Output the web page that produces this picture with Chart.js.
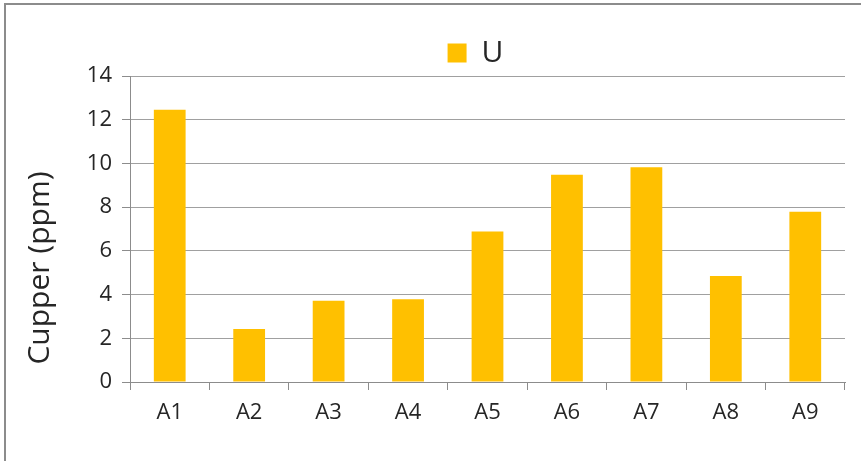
<!DOCTYPE html>
<html>
<head>
<meta charset="utf-8">
<script src="https://cdn.jsdelivr.net/npm/chart.js@4"></script>
<style>
    body { margin: 0; background: #fff; }
    #wrap { position: relative; width: 861px; height: 461px; }
    #frame {
        position: absolute; left: 4px; top: 3px; right: 0; bottom: 0;
        border-left: 2px solid #8c8c8c; border-top: 2px solid #8c8c8c;
        pointer-events: none;
    }
    canvas { position: absolute; left: 0; top: 0; }
</style>
</head>
<body>
<div id="wrap">
    <canvas id="chart" width="861" height="461"></canvas>
    <div id="frame"></div>
</div>
<script>
const categories = ['A1', 'A2', 'A3', 'A4', 'A5', 'A6', 'A7', 'A8', 'A9'];
const seriesName = 'U';
const uValues = [12.46, 2.43, 3.72, 3.79, 6.89, 9.48, 9.83, 4.85, 7.79];
const yTitle = 'Cupper (ppm)';

const textColor = '#262626';
const fontFamily = '"Open Sans", "Noto Sans", sans-serif';

// legend box height fixed so the plot starts where the reference does,
// and the legend pushed right to sit where Excel put it
const legendPlace = {
    id: 'legendPlace',
    beforeInit(chart) {
        const fit = chart.legend.fit;
        chart.legend.fit = function () {
            fit.bind(chart.legend)();
            this.height = 46;
        };
    },
    afterLayout(chart) {
        chart.legend.left += 106;
    }
};

// rotated y title, placed a bit below the plot centre like the original
const yTitlePlugin = {
    id: 'yTitle',
    afterDraw(chart) {
        const ctx = chart.ctx;
        ctx.save();
        ctx.translate(40, 268);
        ctx.rotate(-Math.PI / 2);
        ctx.fillStyle = textColor;
        ctx.font = '30px ' + fontFamily;
        ctx.textAlign = 'center';
        ctx.textBaseline = 'middle';
        ctx.fillText(yTitle, 0, 0);
        ctx.restore();
    }
};

new Chart(document.getElementById('chart'), {
    type: 'bar',
    data: {
        labels: categories,
        datasets: [{
            label: seriesName,
            data: uValues,
            backgroundColor: '#ffc000',
            borderWidth: 0,
            categoryPercentage: 0.4,
            barPercentage: 1
        }]
    },
    options: {
        responsive: false,
        animation: false,
        layout: { padding: { left: 0, right: 16, top: 30, bottom: 0 } },
        plugins: {
            legend: {
                labels: {
                    color: textColor,
                    font: { family: fontFamily, size: 30 },
                    boxWidth: 19,
                    boxHeight: 19,
                    padding: 8
                }
            },
            tooltip: { enabled: false }
        },
        scales: {
            x: {
                afterFit(scale) { scale.height = 79; },
                grid: {
                    offset: true,
                    drawOnChartArea: false,
                    drawTicks: true,
                    tickLength: 8,
                    tickColor: '#8c8c8c'
                },
                border: { color: '#8c8c8c', width: 1 },
                ticks: {
                    color: textColor,
                    font: { family: fontFamily, size: 22 },
                    padding: 10
                }
            },
            y: {
                min: 0,
                max: 14,
                afterFit(scale) { scale.width = 130; },
                grid: {
                    color: '#a0a0a0',
                    tickLength: 8,
                    tickColor: '#8c8c8c'
                },
                border: { color: '#8c8c8c', width: 1 },
                ticks: {
                    stepSize: 2,
                    color: textColor,
                    font: { family: fontFamily, size: 22 },
                    padding: 10
                }
            }
        }
    },
    plugins: [legendPlace, yTitlePlugin]
});
</script>
</body>
</html>
